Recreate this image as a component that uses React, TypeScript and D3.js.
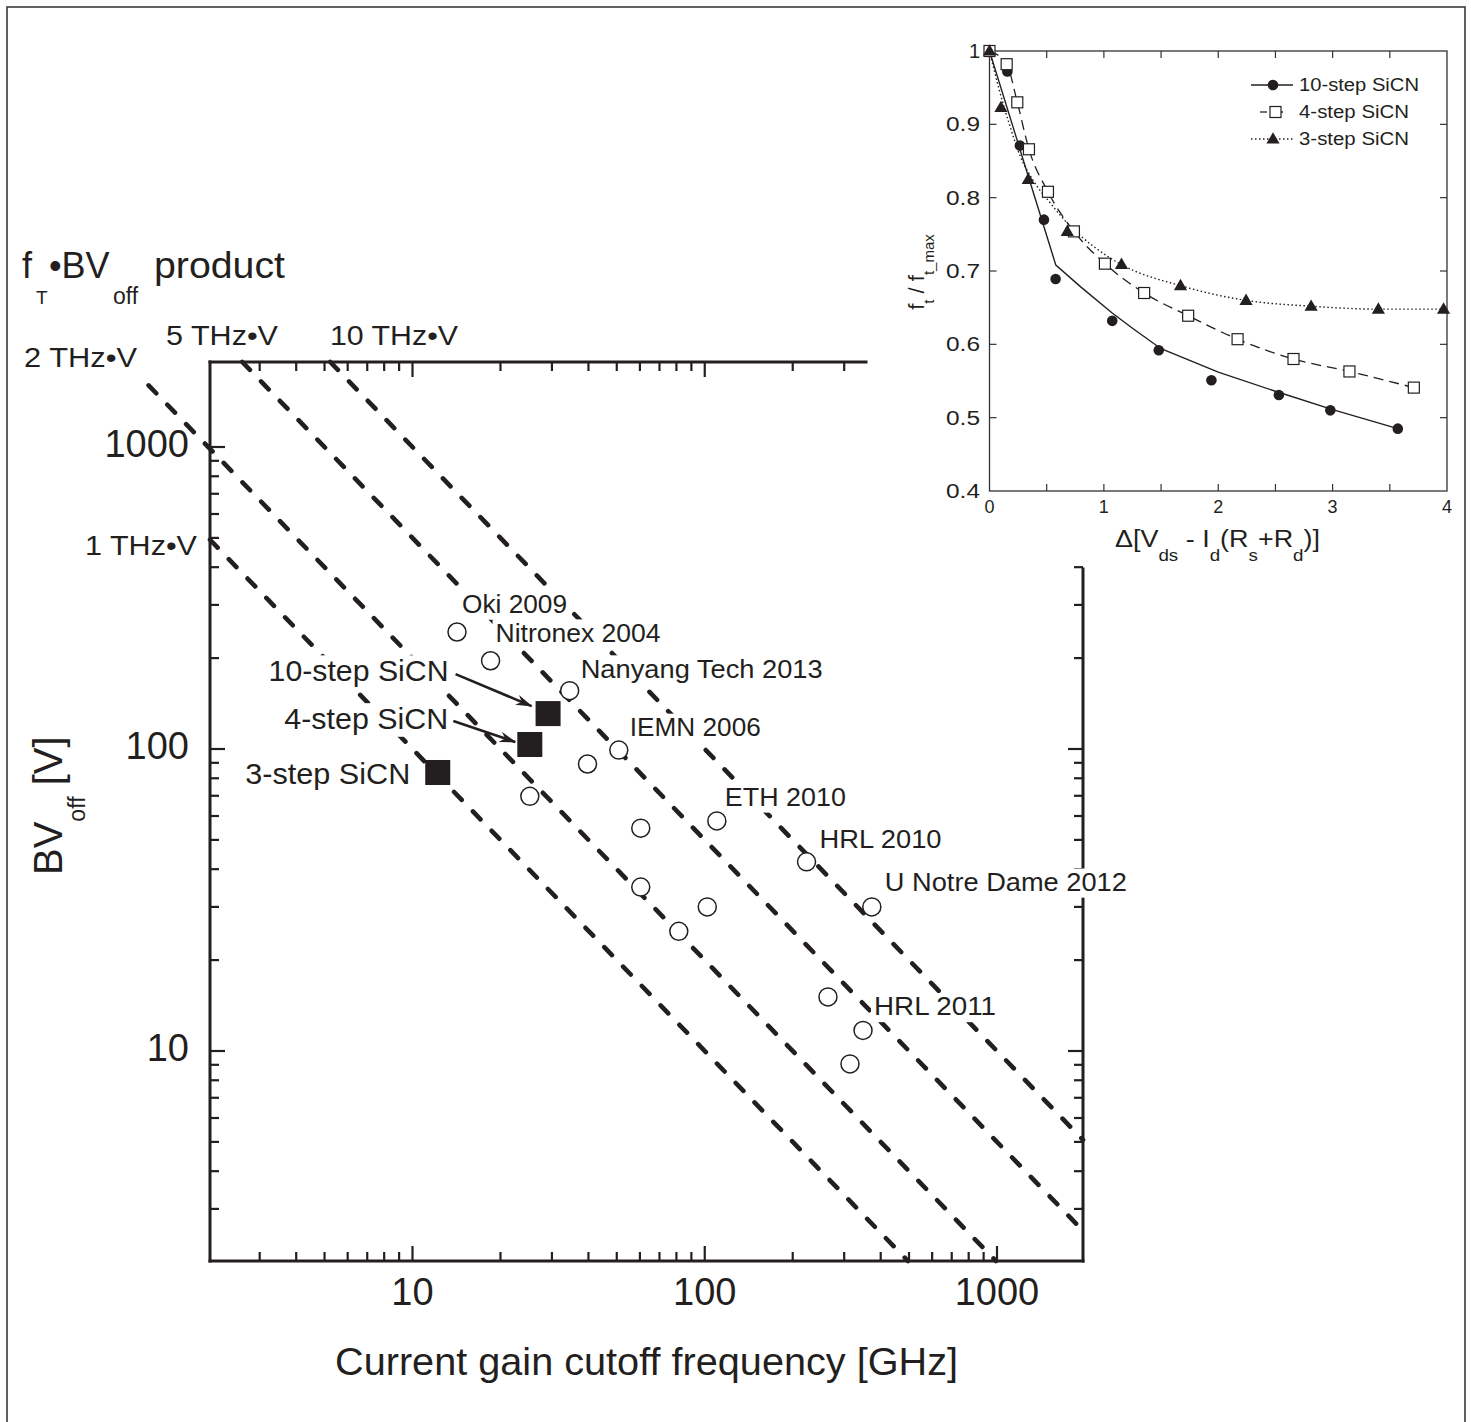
import React from 'react';
import * as d3 from 'd3';

// ---------------- main chart data ----------------
const productTHzV = [1, 2, 5, 10];
const productLabels = ['1 THz•V', '2 THz•V', '5 THz•V', '10 THz•V'];
const productStartGHz = [0, 1.25, 0, 0]; // 0 = starts where it enters the frame

const refNames = ['Oki 2009', 'Nitronex 2004', 'Nanyang Tech 2013', 'IEMN 2006', '', '', 'ETH 2010', '', 'HRL 2010', '', 'U Notre Dame 2012', '', '', '', 'HRL 2011', ''];
const refFtGHz = [14.2, 18.5, 34.5, 50.8, 39.7, 25.2, 110, 60.4, 223, 60.4, 373, 102, 81.5, 264, 348, 314];
const refBVoff = [244, 196, 156, 99.2, 89.2, 69.7, 57.8, 54.7, 42.3, 34.9, 30.0, 30.0, 24.9, 15.1, 11.7, 9.06];

const sicnNames = ['10-step SiCN', '4-step SiCN', '3-step SiCN'];
const sicnFtGHz = [29.1, 25.2, 12.2];
const sicnBVoff = [131, 103.5, 83.6];

const mainXTickLabels = [10, 100, 1000];
const mainYTickLabels = [10, 100, 1000];

// ---------------- inset data ----------------
const step10X = [0, 0.156, 0.266, 0.476, 0.578, 1.073, 1.48, 1.94, 2.53, 2.98, 3.57];
const step10Y = [1.0, 0.972, 0.871, 0.770, 0.689, 0.632, 0.592, 0.551, 0.531, 0.510, 0.485];
const fit10X = [0, 0.58, 0.8, 1.07, 1.25, 1.5, 2.0, 2.5, 3.0, 3.57];
const fit10Y = [1.0, 0.708, 0.678, 0.643, 0.622, 0.594, 0.562, 0.536, 0.511, 0.485];
const step4X = [0, 0.150, 0.243, 0.345, 0.511, 0.738, 1.009, 1.352, 1.737, 2.169, 2.658, 3.147, 3.71];
const step4Y = [1.0, 0.982, 0.930, 0.866, 0.808, 0.754, 0.710, 0.670, 0.639, 0.607, 0.580, 0.563, 0.541];
const step3X = [0, 0.10, 0.339, 0.68, 1.154, 1.67, 2.243, 2.812, 3.40, 3.97];
const step3Y = [1.0, 0.923, 0.825, 0.754, 0.709, 0.680, 0.660, 0.652, 0.648, 0.648];
const fit3X = [0, 0.08, 0.18, 0.27, 0.38, 0.53, 0.70, 0.94, 1.15, 1.67, 2.24, 2.81, 3.40, 3.97];
const fit3Y = [1.0, 0.95, 0.897, 0.856, 0.824, 0.793, 0.762, 0.730, 0.709, 0.680, 0.660, 0.652, 0.648, 0.648];
const legendNames = ['10-step SiCN', '4-step SiCN', '3-step SiCN'];
const insetXTickLabels = [0, 1, 2, 3, 4];
const insetYTickLabels = [0.4, 0.5, 0.6, 0.7, 0.8, 0.9, 1];

// ---------------- layout ----------------
const W = 1471, H = 1422;
const FONT = "'Liberation Sans', Arial, Helvetica, sans-serif";
const INK = '#231f20';
const MX0 = 210, MX1 = 1083, MY0 = 362, MY1 = 1261;
const TOP_AXIS_END = 866, RIGHT_AXIS_TOP = 569;

const xMain = d3.scaleLog().domain([10, 1000]).range([412.5, 997]);
const yMain = d3.scaleLog().domain([10, 1000]).range([1051, 447]);

const IX0 = 989.5, IX1 = 1447, IY0 = 51, IY1 = 491;
const xIn = d3.scaleLinear().domain([0, 4]).range([IX0, IX1]);
const yIn = d3.scaleLinear().domain([0.4, 1]).range([IY1, IY0]);

const productLabelPos: [number, number, number][] = [[85, 555, 112], [24, 367, 113], [166, 345, 112], [330, 345, 128]];
// [dx, dy, rendered width]
const labelLayout: Record<string, [number, number, number]> = {
  'Oki 2009': [5, -19, 105], 'Nitronex 2004': [5, -19, 165], 'Nanyang Tech 2013': [11, -13, 242],
  'IEMN 2006': [11, -14, 131], 'ETH 2010': [8, -15, 121], 'HRL 2010': [13, -14, 122],
  'U Notre Dame 2012': [13, -16, 242], 'HRL 2011': [11, -15, 122],
};
const sicnLabelLayout: [number, number, number][] = [[-99.5, -32.5, 180], [-81.5, -15.5, 164], [-27.5, 11.5, 165]];
const sicnArrow: ([number, number, number, number] | null)[] = [[-92.5, -39.5, -16.5, -7.5], [-76.5, -23.5, -14.5, -2.5], null];

const tri = (cx: number, cy: number, s: number) =>
  `M${cx},${cy - s * 0.62} L${cx + s * 0.6},${cy + s * 0.42} L${cx - s * 0.6},${cy + s * 0.42} Z`;

function logTicks(lo: number, hi: number) {
  const out: { v: number; major: boolean }[] = [];
  for (let e = 0; e <= 4; e++) for (let m = 1; m <= 9; m++) {
    const v = m * Math.pow(10, e);
    if (v >= lo * 0.999 && v <= hi * 1.001) out.push({ v, major: m === 1 });
  }
  return out;
}

export default function App() {
  const fMin = xMain.invert(MX0), fMax = xMain.invert(MX1);
  const bvMax = yMain.invert(MY0), bvMin = yMain.invert(MY1);

  const productLines = productTHzV.map((t, i) => {
    const C = t * 1000;
    const f0 = productStartGHz[i] > 0 ? productStartGHz[i] : Math.max(fMin, C / bvMax);
    const f1 = Math.min(fMax, C / bvMin);
    return { x1: xMain(f0), y1: yMain(C / f0), x2: xMain(f1), y2: yMain(C / f1) };
  });

  const bottomTicks = logTicks(3, 1000);
  const topTicks = logTicks(3, 300);
  const leftTicks = logTicks(3, 1000);
  const rightTicks = logTicks(3, 400);

  const refPts = refFtGHz.map((f, i) => ({ name: refNames[i], x: xMain(f), y: yMain(refBVoff[i]) }));
  const sicnPts = sicnFtGHz.map((f, i) => ({ name: sicnNames[i], x: xMain(f), y: yMain(sicnBVoff[i]) }));

  const lineGen = d3.line<[number, number]>().x(d => xIn(d[0])).y(d => yIn(d[1]));
  const fit10 = fit10X.map((x, i) => [x, fit10Y[i]] as [number, number]);
  const pts4 = step4X.map((x, i) => [x, step4Y[i]] as [number, number]);
  const fit3 = fit3X.map((x, i) => [x, fit3Y[i]] as [number, number]);
  const path10 = lineGen.curve(d3.curveLinear)(fit10) || '';
  const path4 = lineGen.curve(d3.curveMonotoneX)(pts4) || '';
  const path3 = lineGen.curve(d3.curveMonotoneX)(fit3) || '';

  const dataFs = 26, sicnFs = 30;

  return (
    <svg width={W} height={H} viewBox={`0 0 ${W} ${H}`} style={{ position: 'absolute', left: 0, top: 0, background: '#fff' }} fontFamily={FONT}>
      <defs>
        <marker id="arrowHead" viewBox="0 0 16 10" refX="15" refY="5" markerWidth="17" markerHeight="11" markerUnits="userSpaceOnUse" orient="auto">
          <path d="M0,0 L16,5 L0,10 L5,5 Z" fill={INK} />
        </marker>
      </defs>
      <rect x={0} y={0} width={W} height={H} fill="#fff" />
      <rect x={7} y={7} width={1458} height={1440} fill="none" stroke="#3a3a3a" strokeWidth={1.6} />

      {/* title */}
      <g fill={INK}>
        <text x={22} y={278} fontSize={36}>f</text>
        <text x={36} y={304} fontSize={19}>T</text>
        <text x={49} y={278} fontSize={36}>•BV</text>
        <text x={113} y={304} fontSize={23}>off</text>
        <text x={154} y={278} fontSize={37} textLength={131} lengthAdjust="spacingAndGlyphs">product</text>
      </g>

      {/* product lines */}
      <g stroke={INK} strokeWidth={4.6} strokeDasharray="11 16" strokeLinecap="round">
        {productLines.map((l, i) => <line key={i} x1={l.x1} y1={l.y1} x2={l.x2} y2={l.y2} />)}
      </g>
      <g fill={INK}>
        {productLabels.map((s, i) => (
          <text key={i} x={productLabelPos[i][0]} y={productLabelPos[i][1]} fontSize={28} textLength={productLabelPos[i][2]} lengthAdjust="spacingAndGlyphs">{s}</text>
        ))}
      </g>

      {/* axes */}
      <g stroke={INK} strokeWidth={3} strokeLinecap="square">
        <line x1={MX0} y1={MY0} x2={MX0} y2={MY1} />
        <line x1={MX0} y1={MY1} x2={MX1} y2={MY1} />
        <line x1={MX0} y1={MY0} x2={TOP_AXIS_END} y2={MY0} />
        <line x1={MX1} y1={RIGHT_AXIS_TOP} x2={MX1} y2={MY1} />
      </g>
      <g stroke={INK} strokeWidth={2.2}>
        {bottomTicks.map(t => <line key={'b' + t.v} x1={xMain(t.v)} x2={xMain(t.v)} y1={MY1} y2={MY1 - (t.major ? 15 : 9)} />)}
        {topTicks.map(t => <line key={'t' + t.v} x1={xMain(t.v)} x2={xMain(t.v)} y1={MY0} y2={MY0 + (t.major ? 15 : 9)} />)}
        {leftTicks.map(t => <line key={'l' + t.v} x1={MX0} x2={MX0 + (t.major ? 15 : 9)} y1={yMain(t.v)} y2={yMain(t.v)} />)}
        {rightTicks.map(t => <line key={'r' + t.v} x1={MX1} x2={MX1 - (t.major ? 15 : 9)} y1={yMain(t.v)} y2={yMain(t.v)} />)}
      </g>
      <g fill={INK} fontSize={38}>
        {mainXTickLabels.map(v => <text key={'xl' + v} x={xMain(v)} y={1305} textAnchor="middle">{v}</text>)}
        {mainYTickLabels.map(v => <text key={'yl' + v} x={189} y={yMain(v) + 10} textAnchor="end">{v}</text>)}
      </g>
      <text x={(MX0 + MX1) / 2} y={1375} fontSize={39} fill={INK} textAnchor="middle" textLength={623} lengthAdjust="spacingAndGlyphs">Current gain cutoff frequency [GHz]</text>
      <text transform="translate(62,875) rotate(-90)" fontSize={40} fill={INK}>
        BV<tspan fontSize={23} dy={23}>off</tspan><tspan dy={-23}> [V]</tspan>
      </text>

      {/* reference labels with white boxes */}
      {refPts.filter(p => p.name).map(p => {
        const o = labelLayout[p.name];
        const tx = p.x + o[0], ty = p.y + o[1];
        return (
          <g key={'lab' + p.name}>
            <rect x={tx - 3} y={ty - dataFs * 0.86} width={o[2] + 6} height={dataFs * 1.12} fill="#fff" />
            <text x={tx} y={ty} fontSize={dataFs} fill={INK} textLength={o[2]} lengthAdjust="spacingAndGlyphs">{p.name}</text>
          </g>
        );
      })}
      {sicnPts.map((p, i) => {
        const o = sicnLabelLayout[i];
        const tx = p.x + o[0], ty = p.y + o[1];
        return (
          <g key={'sl' + i}>
            <rect x={tx - o[2] - 3} y={ty - sicnFs * 0.86} width={o[2] + 6} height={sicnFs * 1.12} fill="#fff" />
            <text x={tx} y={ty} fontSize={sicnFs} fill={INK} textAnchor="end" textLength={o[2]} lengthAdjust="spacingAndGlyphs">{p.name}</text>
          </g>
        );
      })}

      {/* reference points */}
      <g fill="#fff" stroke={INK} strokeWidth={1.5}>
        {refPts.map((p, i) => <circle key={'c' + i} cx={p.x} cy={p.y} r={9} />)}
      </g>
      {/* arrows */}
      <g stroke={INK} strokeWidth={2.6} fill="none">
        {sicnPts.map((p, i) => {
          const a = sicnArrow[i];
          if (!a) return null;
          return <line key={'ar' + i} x1={p.x + a[0]} y1={p.y + a[1]} x2={p.x + a[2]} y2={p.y + a[3]} markerEnd="url(#arrowHead)" />;
        })}
      </g>
      <g fill={INK}>
        {sicnPts.map((p, i) => <rect key={'sq' + i} x={p.x - 12.5} y={p.y - 12.5} width={25} height={25} />)}
      </g>

      {/* ---------------- inset ---------------- */}
      <g>
        <rect x={IX0} y={IY0} width={IX1 - IX0} height={IY1 - IY0} fill="none" stroke="#333" strokeWidth={1.3} />
        <g stroke="#333" strokeWidth={1.2}>
          {d3.range(0.5, 4, 0.5).map(v => (
            <g key={'ix' + v}>
              <line x1={xIn(v)} x2={xIn(v)} y1={IY1} y2={IY1 - 7} />
              <line x1={xIn(v)} x2={xIn(v)} y1={IY0} y2={IY0 + 7} />
            </g>
          ))}
          {insetYTickLabels.slice(1, -1).map(v => (
            <g key={'iy' + v}>
              <line x1={IX0} x2={IX0 + 7} y1={yIn(v)} y2={yIn(v)} />
              <line x1={IX1} x2={IX1 - 7} y1={yIn(v)} y2={yIn(v)} />
            </g>
          ))}
        </g>
        <g fill={INK} fontSize={20}>
          {insetYTickLabels.map(v => v === 1
            ? <text key={'iyl' + v} x={980} y={yIn(v) + 7} textAnchor="end">1</text>
            : <text key={'iyl' + v} x={980} y={yIn(v) + 7} textAnchor="end" textLength={34} lengthAdjust="spacingAndGlyphs">{v.toFixed(1)}</text>)}
        </g>
        <g fill={INK} fontSize={18}>
          {insetXTickLabels.map(v => <text key={'ixl' + v} x={xIn(v)} y={513} textAnchor="middle">{v}</text>)}
        </g>
        <text x={1115} y={547} fontSize={23} fill={INK} textLength={205} lengthAdjust="spacingAndGlyphs">
          Δ[V<tspan fontSize={16} dy={14}>ds</tspan><tspan dy={-14}> - I</tspan><tspan fontSize={16} dy={14}>d</tspan><tspan dy={-14}>(R</tspan><tspan fontSize={16} dy={14}>s</tspan><tspan dy={-14}>+R</tspan><tspan fontSize={16} dy={14}>d</tspan><tspan dy={-14}>)]</tspan>
        </text>
        <text transform="translate(924,272) rotate(-90)" fontSize={22} fill={INK} textAnchor="middle">
          f<tspan fontSize={15} dy={10}>t</tspan><tspan dy={-10}> / f</tspan><tspan fontSize={15} dy={10}>t_max</tspan>
        </text>

        <path d={path10} fill="none" stroke={INK} strokeWidth={1.4} />
        <path d={path4} fill="none" stroke={INK} strokeWidth={1.3} strokeDasharray="10 6" />
        <path d={path3} fill="none" stroke={INK} strokeWidth={1.4} strokeDasharray="1.5 2.5" />

        <g fill={INK}>
          {step10X.map((x, i) => <circle key={'p10' + i} cx={xIn(x)} cy={yIn(step10Y[i])} r={5.3} />)}
        </g>
        <g fill="#fff" stroke={INK} strokeWidth={1.2}>
          {step4X.map((x, i) => <rect key={'p4' + i} x={xIn(x) - 5.5} y={yIn(step4Y[i]) - 5.5} width={11} height={11} />)}
        </g>
        <g fill={INK}>
          {step3X.map((x, i) => <path key={'p3' + i} d={tri(xIn(x), yIn(step3Y[i]), 11)} />)}
        </g>

        {/* legend */}
        {legendNames.map((n, i) => {
          const cy = 85 + i * 27;
          return (
            <g key={'lg' + i}>
              {i === 0 && <line x1={1251} x2={1293} y1={cy} y2={cy} stroke={INK} strokeWidth={1.4} />}
              {i === 1 && <line x1={1260} x2={1292} y1={cy} y2={cy} stroke={INK} strokeWidth={1.3} strokeDasharray="7 9" />}
              {i === 2 && <line x1={1251} x2={1293} y1={cy} y2={cy} stroke={INK} strokeWidth={1.4} strokeDasharray="1.5 2.5" />}
              {i === 0 && <circle cx={1273} cy={cy} r={5.3} fill={INK} />}
              {i === 1 && <rect x={1270} y={cy - 5.5} width={11} height={11} fill="#fff" stroke={INK} strokeWidth={1.2} />}
              {i === 2 && <path d={tri(1273, cy, 11)} fill={INK} />}
              <text x={1299} y={cy + 6} fontSize={18} fill={INK} textLength={i === 0 ? 120 : 110} lengthAdjust="spacingAndGlyphs">{n}</text>
            </g>
          );
        })}
      </g>
    </svg>
  );
}
